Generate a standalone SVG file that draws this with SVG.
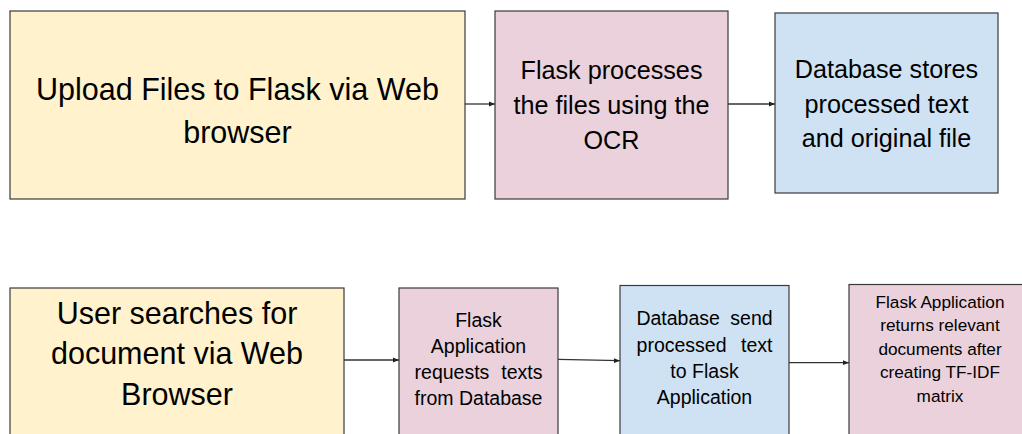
<svg xmlns="http://www.w3.org/2000/svg" width="1022" height="434" viewBox="0 0 1022 434">
<style>
.box{stroke:#3a3a3a;stroke-width:1.2}
.y{fill:#fff2cc}
.p{fill:#ead1dc}
.b{fill:#cfe2f3}
text{font-family:"Liberation Sans",Arial,sans-serif;fill:#000;text-anchor:middle}
.big{font-size:30.5px}
.mid{font-size:25.2px}
.sm{font-size:19.5px}
.xs{font-size:17.2px}
.conn{stroke:#333;stroke-width:1.3;fill:none;marker-end:url(#ah)}
</style>
<defs>
<marker id="ah" viewBox="0 0 10 10" refX="10" refY="5" markerWidth="6" markerHeight="6" markerUnits="userSpaceOnUse" orient="auto">
<path d="M0,1 L10,5 L0,9 Z" fill="#222"/>
</marker>
</defs>
<rect width="1022" height="434" fill="#fff"/>
<g id="n1">
<rect class="box y" x="10" y="11" width="455" height="188"/>
<text class="big" x="237.5" y="100">Upload Files to Flask via Web</text>
<text class="big" x="237.5" y="142.5">browser</text>
</g>
<g id="n2">
<rect class="box p" x="495" y="11" width="233" height="188"/>
<text class="mid" x="611.5" y="79">Flask processes</text>
<text class="mid" x="611.5" y="113.5">the files using the</text>
<text class="mid" x="611.5" y="148.5">OCR</text>
</g>
<g id="n3">
<rect class="box b" x="775" y="13" width="223" height="180"/>
<text class="mid" x="886.5" y="78">Database stores</text>
<text class="mid" x="886.5" y="112.5">processed text</text>
<text class="mid" x="886.5" y="147">and original file</text>
</g>
<g id="n4">
<rect class="box y" x="10" y="288" width="334" height="170"/>
<text class="big" x="177" y="324">User searches for</text>
<text class="big" x="177" y="364">document via Web</text>
<text class="big" x="177" y="404.5">Browser</text>
</g>
<g id="n5">
<rect class="box p" x="399" y="288" width="159" height="170"/>
<text class="sm" x="478.5" y="327">Flask</text>
<text class="sm" x="478.5" y="353">Application</text>
<text class="sm" x="478.5" y="379" word-spacing="6.5">requests texts</text>
<text class="sm" x="478.5" y="405">from Database</text>
</g>
<g id="n6">
<rect class="box b" x="620" y="285.5" width="169" height="172"/>
<text class="sm" x="704.5" y="325" word-spacing="5">Database send</text>
<text class="sm" x="704.5" y="351.5" word-spacing="9">processed text</text>
<text class="sm" x="704.5" y="378">to Flask</text>
<text class="sm" x="704.5" y="403.5">Application</text>
</g>
<g id="n7">
<rect class="box p" x="849" y="284.5" width="182" height="174"/>
<text class="xs" x="940" y="307.5">Flask Application</text>
<text class="xs" x="940" y="331">returns relevant</text>
<text class="xs" x="940" y="354.5">documents after</text>
<text class="xs" x="940" y="378">creating TF-IDF</text>
<text class="xs" x="940" y="401.5">matrix</text>
</g>
<g id="connectors">
<line class="conn" x1="465" y1="104" x2="495" y2="104"/>
<line class="conn" x1="728" y1="104" x2="775" y2="104"/>
<line class="conn" x1="344" y1="360" x2="399" y2="360"/>
<line class="conn" x1="558" y1="359.3" x2="620" y2="360.7"/>
<line class="conn" x1="789" y1="362.7" x2="849" y2="362.7"/>
</g>
</svg>
